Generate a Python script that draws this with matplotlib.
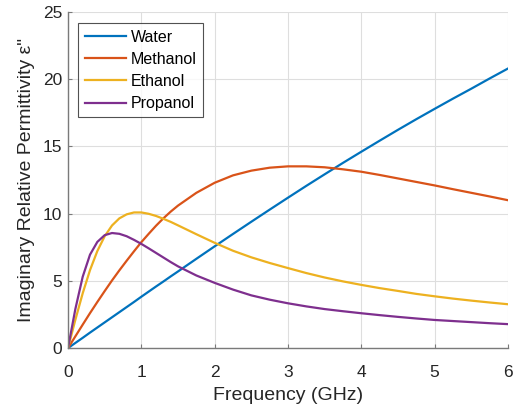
import matplotlib
matplotlib.use("Agg")
import matplotlib.pyplot as plt

# frequency grid (GHz) and values
freq = [0, 0.1, 0.2, 0.3, 0.4, 0.5, 0.6, 0.7, 0.8, 0.9, 1.0, 1.1, 1.2, 1.3, 1.4, 1.5,
        1.75, 2.0, 2.25, 2.5, 2.75, 3.0, 3.25, 3.5, 3.75, 4.0, 4.25, 4.5, 4.75,
        5.0, 5.25, 5.5, 5.75, 6.0]

water = [0, 0.38, 0.76, 1.15, 1.53, 1.91, 2.29, 2.67, 3.05, 3.43, 3.82, 4.20, 4.58,
         4.95, 5.33, 5.70, 6.64, 7.57, 8.49, 9.40, 10.30, 11.19, 12.07, 12.93, 13.78,
         14.61, 15.43, 16.24, 17.03, 17.80, 18.56, 19.30, 20.06, 20.80]
methanol = [0, 0.87, 1.74, 2.60, 3.43, 4.24, 5.03, 5.78, 6.50, 7.20, 7.88, 8.50, 9.10,
            9.65, 10.15, 10.60, 11.55, 12.30, 12.85, 13.20, 13.42, 13.52, 13.52, 13.45,
            13.30, 13.12, 12.88, 12.62, 12.36, 12.10, 11.82, 11.55, 11.28, 11.00]
ethanol = [0, 2.10, 4.07, 5.80, 7.22, 8.32, 9.12, 9.65, 9.95, 10.09, 10.09, 9.99, 9.83,
           9.62, 9.39, 9.13, 8.47, 7.83, 7.24, 6.75, 6.33, 5.95, 5.58, 5.25, 4.96,
           4.70, 4.46, 4.25, 4.03, 3.85, 3.68, 3.53, 3.39, 3.26]
propanol = [0, 2.90, 5.30, 6.95, 7.90, 8.40, 8.56, 8.50, 8.32, 8.05, 7.75, 7.42, 7.08,
            6.74, 6.40, 6.08, 5.40, 4.85, 4.35, 3.92, 3.60, 3.33, 3.10, 2.90, 2.74,
            2.59, 2.45, 2.32, 2.20, 2.09, 2.01, 1.93, 1.85, 1.78]

names = ["Water", "Methanol", "Ethanol", "Propanol"]
colors = ["#0072BD", "#D95319", "#EDB120", "#7E2F8E"]

plt.rcParams['font.family'] = ['Liberation Sans', 'DejaVu Sans']

fig = plt.figure(figsize=(5.18, 4.09), dpi=100)
ax = fig.add_axes([0.1313, 0.149, 0.8494, 0.8215])

for ys, name, c in zip([water, methanol, ethanol, propanol], names, colors):
    ax.plot(freq, ys, color=c, lw=1.6, label=name)

ax.set_xlim(0, 6)
ax.set_ylim(0, 25)
ax.set_xticks(range(0, 7))
ax.set_yticks(range(0, 26, 5))
ax.grid(True, color="#dedede", lw=0.8)
ax.set_axisbelow(True)

for s in ["top", "right"]:
    ax.spines[s].set_visible(False)
for s in ["left", "bottom"]:
    ax.spines[s].set_color("#7a7a7a")
    ax.spines[s].set_linewidth(1.0)
ax.tick_params(direction="in", length=3, width=0.8, color="#7a7a7a",
               labelsize=12.5, labelcolor="#262626")
ax.tick_params(axis="x", pad=12)
ax.tick_params(axis="y", pad=4)

ax.set_xlabel("Frequency (GHz)", fontsize=14, color="#262626", labelpad=5)
ax.set_ylabel('Imaginary Relative Permittivity ε"', fontsize=14, color="#262626", labelpad=6)

leg = ax.legend(loc="upper left", bbox_to_anchor=(0.023, 0.967), fontsize=11.5,
                frameon=True, fancybox=False, edgecolor="#262626",
                handlelength=2.6, handletextpad=0.3, borderpad=0.4,
                labelspacing=0.45, borderaxespad=0.0)
leg.get_frame().set_linewidth(0.8)

fig.savefig("out.png", dpi=100)
